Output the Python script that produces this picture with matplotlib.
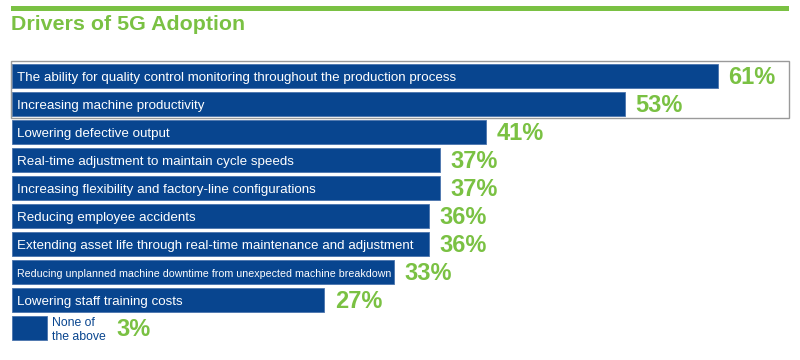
import matplotlib.pyplot as plt
from matplotlib.patches import Rectangle

plt.rcParams['font.family'] = ['Liberation Sans', 'DejaVu Sans']

labels = [
    'The ability for quality control monitoring throughout the production process',
    'Increasing machine productivity',
    'Lowering defective output',
    'Real-time adjustment to maintain cycle speeds',
    'Increasing flexibility and factory-line configurations',
    'Reducing employee accidents',
    'Extending asset life through real-time maintenance and adjustment',
    'Reducing unplanned machine downtime from unexpected machine breakdown',
    'Lowering staff training costs',
    'None of\nthe above',
]
values = [61, 53, 41, 37, 37, 36, 36, 33, 27, 3]

blue = '#08458f'
green = '#7ac143'

W, H = 800, 360
fig = plt.figure(figsize=(8, 3.6), dpi=100)

# green rule + title
fig.add_artist(Rectangle((11 / W, 1 - 11 / H), 778 / W, 5.5 / H,
                         transform=fig.transFigure, color=green, lw=0))
fig.text(11 / W, 1 - 24 / H, 'Drivers of 5G Adoption', color=green,
         fontsize=15.4, fontweight='bold', va='center', ha='left')

# axes: x in percent, rows 28 px apart
left, right, top, bottom = 12, 790, 62, 342
ax = fig.add_axes([left / W, 1 - bottom / H, (right - left) / W, (bottom - top) / H])
px_per_pct = 11.57
ax.set_xlim(0, (right - left) / px_per_pct)
ax.set_ylim(len(values) - 0.5, -0.5)
ax.axis('off')

ys = range(len(values))
ax.barh(ys, values, height=0.89, color=blue, edgecolor='#4a74ad', linewidth=0.6)

dy = 0.06  # nudge text down a touch
for i, (lab, v) in enumerate(zip(labels, values)):
    if i == len(values) - 1:
        ax.text(v + 0.45, i + dy, lab, color=blue, fontsize=8.8, va='center', ha='left',
                linespacing=1.25)
        ax.text(v + 6.0, i + dy, f'{v}%', color=green, fontsize=17, fontweight='bold',
                va='center', ha='left')
        continue
    fs = 7.7 if i == 7 else 9.6
    ax.text(0.45, i + dy, lab, color='white', fontsize=fs, va='center', ha='left')
    ax.text(v + 0.9, i + dy, f'{v}%', color=green, fontsize=17, fontweight='bold',
            va='center', ha='left')

# gray box around the top two rows
ax.add_patch(Rectangle((-0.001, -0.55), 1.0, 2.05, transform=ax.get_yaxis_transform(),
                       fill=False, edgecolor='#9a9a9a', lw=1, clip_on=False))

fig.savefig('out.png', dpi=100)
